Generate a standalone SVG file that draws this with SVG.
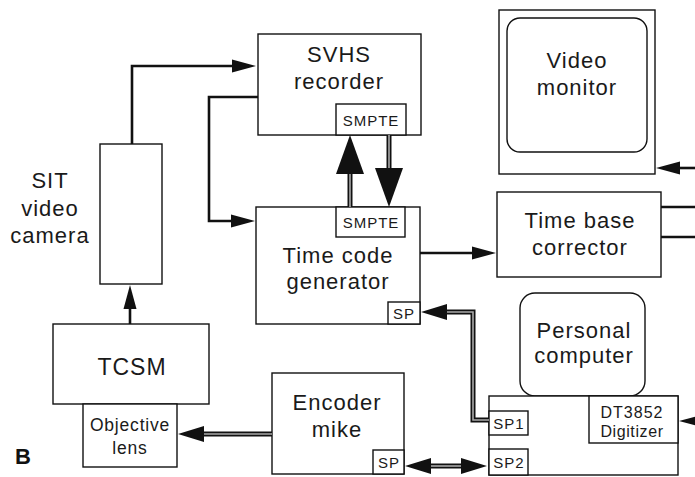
<svg xmlns="http://www.w3.org/2000/svg" width="695" height="477" viewBox="0 0 695 477">
<style>
.box{fill:#fff;stroke:#111;stroke-width:1.4}
.t{font-family:"Liberation Sans",Arial,sans-serif;fill:#1a1a1a;text-anchor:middle}
.big{font-size:22px;letter-spacing:1px}
.sm{font-size:15px;letter-spacing:1px}
.md{font-size:17.5px;letter-spacing:0.8px}
.ln{fill:none;stroke:#111;stroke-width:2.6}
.dbl{fill:none;stroke:#111;stroke-width:5}
.dbli{fill:none;stroke:#aaa;stroke-width:1.6}
.ah{fill:#111;stroke:none}
</style>
<defs>
<marker id="arr" markerUnits="userSpaceOnUse" markerWidth="24" markerHeight="13" refX="1" refY="6.5" orient="auto-start-reverse" overflow="visible"><path d="M0,0 L24,6.5 L0,13 z" fill="#111"/></marker>
<marker id="arrB" markerUnits="userSpaceOnUse" markerWidth="26" markerHeight="16" refX="1" refY="8" orient="auto-start-reverse" overflow="visible"><path d="M0,0 L26,8 L0,16 z" fill="#111"/></marker>
</defs>

<g id="svhs">
<rect class="box" x="258" y="34" width="163" height="101"/>
<text class="t big" x="339" y="62">SVHS</text>
<text class="t big" x="339" y="89">recorder</text>
<rect class="box" x="336" y="104" width="70" height="31"/>
<text class="t sm" x="371" y="126">SMPTE</text>
</g>

<g id="tcg">
<rect class="box" x="256" y="207" width="164" height="117"/>
<rect class="box" x="336" y="207" width="69" height="30"/>
<text class="t sm" x="371" y="228">SMPTE</text>
<text class="t big" x="338" y="263">Time code</text>
<text class="t big" x="338" y="289">generator</text>
<rect class="box" x="388" y="302" width="32" height="22"/>
<text class="t sm" x="404" y="319">SP</text>
</g>

<g id="camera">
<rect class="box" x="100" y="144" width="62" height="140"/>
<text class="t big" x="50" y="188">SIT</text>
<text class="t big" x="50" y="216">video</text>
<text class="t big" x="50" y="243">camera</text>
</g>

<g id="tcsm">
<rect class="box" x="53" y="324" width="156" height="80"/>
<text class="t big" x="132" y="375" style="font-size:23px">TCSM</text>
</g>

<g id="lens">
<rect class="box" x="83" y="404" width="94" height="63"/>
<text class="t md" x="130" y="431">Objective</text>
<text class="t md" x="130" y="454">lens</text>
</g>

<g id="encoder">
<rect class="box" x="272" y="373" width="132" height="101"/>
<text class="t big" x="337" y="410">Encoder</text>
<text class="t big" x="337" y="437">mike</text>
<rect class="box" x="373" y="450" width="31" height="24"/>
<text class="t sm" x="389" y="468">SP</text>
</g>

<g id="monitor">
<rect class="box" x="499" y="10" width="156" height="164"/>
<rect class="box" x="507" y="18" width="140" height="134" rx="13"/>
<text class="t big" x="577" y="68">Video</text>
<text class="t big" x="577" y="95">monitor</text>
</g>

<g id="tbc">
<rect class="box" x="497" y="192" width="164" height="85"/>
<text class="t big" x="580" y="228">Time base</text>
<text class="t big" x="580" y="255">corrector</text>
</g>

<g id="pc">
<rect class="box" x="520" y="293" width="125" height="103" rx="15"/>
<text class="t big" x="584" y="338">Personal</text>
<text class="t big" x="584" y="363">computer</text>
</g>

<g id="digitizer">
<rect class="box" x="489" y="396" width="189" height="79"/>
<rect class="box" x="489" y="411" width="39" height="24"/>
<text class="t sm" x="509" y="429">SP1</text>
<rect class="box" x="489" y="449" width="39" height="26"/>
<text class="t sm" x="509" y="468">SP2</text>
<rect class="box" x="589" y="396" width="89" height="47"/>
<text class="t sm" x="632" y="418" style="font-size:16px">DT3852</text>
<text class="t sm" x="632" y="437" style="font-size:16px;letter-spacing:0.6px">Digitizer</text>
</g>

<g id="connectors">
<path class="ln" d="M132,144 V66 H233" marker-end="url(#arr)"/>
<path class="ln" d="M258,97 H209 V221 H232" marker-end="url(#arr)"/>
<path class="ln" d="M130,324 V308" marker-end="url(#arr)"/>
<path class="ln" d="M420,253 H473" marker-end="url(#arr)"/>
<path class="ln" d="M700,168 H679" marker-end="url(#arr)"/>
<path class="ln" d="M710,421 H702" marker-end="url(#arr)"/>
<path class="ln" d="M661,207 H695"/>
<path class="ln" d="M661,237 H695"/>

<path class="dbl" d="M272,434 H203"/>
<path class="dbli" d="M272,434 H203" marker-end="url(#arrB)"/>
<path class="dbl" d="M489,420 H473 V312 H446"/>
<path class="dbli" d="M489,420 H473 V312 H446" marker-end="url(#arrB)"/>
<path class="dbl" d="M430,466 H462"/>
<path class="dbli" d="M430,466 H462" marker-start="url(#arrB)" marker-end="url(#arrB)"/>

<path class="dbl" d="M350,207 V172"/>
<path class="dbli" d="M350,207 V172"/>
<polygon class="ah" points="350,135 336,174 364,174"/>
<path class="dbl" d="M389,135 V169"/>
<path class="dbli" d="M389,135 V169"/>
<polygon class="ah" points="389,207 375,168 403,168"/>
</g>

<text x="15" y="464" style="font-family:'Liberation Sans',Arial,sans-serif;font-size:22px;font-weight:bold;fill:#111">B</text>
</svg>
